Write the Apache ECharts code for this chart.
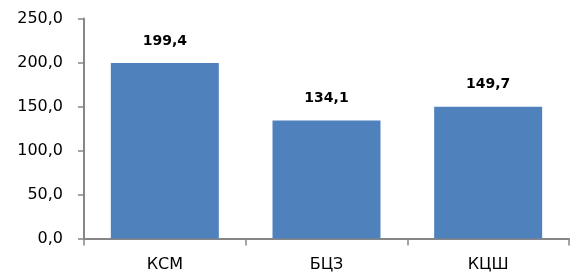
<!DOCTYPE html>
<html>
<head>
<meta charset="utf-8">
<script src="https://cdn.jsdelivr.net/npm/echarts@6/dist/echarts.min.js"></script>
<style>
html,body{margin:0;padding:0;background:#fff;}
#chart{width:576px;height:277px;}
</style>
</head>
<body>
<div id="chart"></div>
<script>
var categories = ['КСМ', 'БЦЗ', 'КЦШ'];
var values = [199.4, 134.1, 149.7];
var yMin = 0, yMax = 250, yStep = 50;

function fmt(v){ return Number(v).toFixed(1).replace('.', ','); }

var chart = echarts.init(document.getElementById('chart'), null, {renderer:'canvas'});
chart.setOption({
  animation: false,
  backgroundColor: '#ffffff',
  grid: {left: 84, right: 7, top: 18.5, bottom: 38.5, containLabel: false},
  xAxis: {
    type: 'category',
    data: categories,
    axisLine: {lineStyle: {color: '#868686', width: 2}},
    axisTick: {show: true, length: 7, lineStyle: {color: '#868686', width: 1.5}, alignWithLabel: false},
    axisLabel: {color: '#000', fontFamily: 'DejaVu Sans', fontSize: 16, margin: 18}
  },
  yAxis: {
    type: 'value',
    min: yMin, max: yMax, interval: yStep,
    axisLine: {show: true, lineStyle: {color: '#868686', width: 2}},
    axisTick: {show: true, length: 6, lineStyle: {color: '#868686', width: 1.5}},
    splitLine: {show: false},
    axisLabel: {color: '#000', fontFamily: 'DejaVu Sans', fontSize: 16, margin: 21, formatter: fmt}
  },
  series: [{
    type: 'bar',
    data: values,
    barWidth: 108,
    itemStyle: {color: '#4F81BD'},
    label: {
      show: true, position: 'top', distance: 15,
      color: '#000', fontFamily: 'DejaVu Sans', fontWeight: 'bold', fontSize: 14,
      formatter: function(p){ return fmt(p.value); }
    }
  }]
});
</script>
</body>
</html>
